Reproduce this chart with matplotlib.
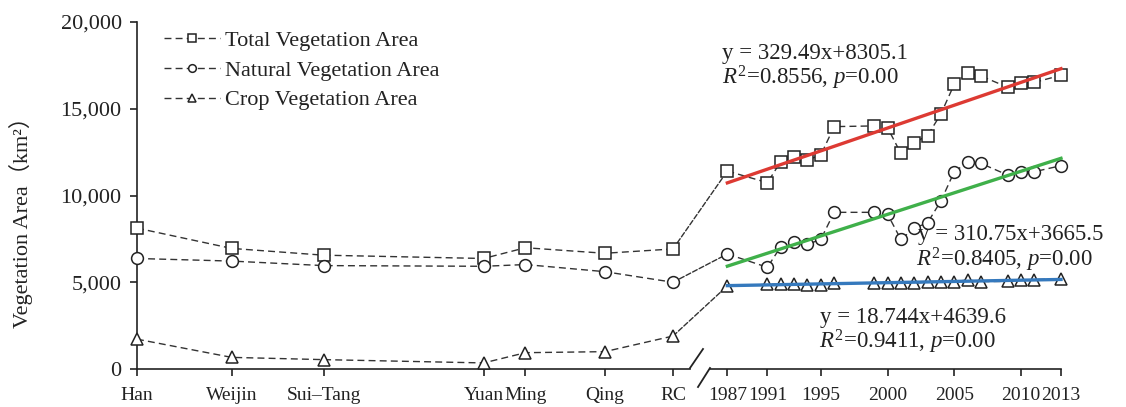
import numpy as np
import matplotlib
matplotlib.use('Agg')
import matplotlib.pyplot as plt
from matplotlib.patches import ConnectionPatch
from matplotlib.lines import Line2D
from matplotlib.ticker import FuncFormatter

plt.rcParams['font.family'] = ['Liberation Serif', 'Noto Sans CJK SC']
plt.rcParams['mathtext.fontset'] = 'custom'
plt.rcParams['mathtext.rm'] = 'Liberation Serif'
plt.rcParams['mathtext.it'] = 'Liberation Serif:italic'

# historical periods, x = rough representative year on a compressed time axis
periods = ['Han', 'Weijin', 'Sui\u2013Tang', 'Yuan', 'Ming', 'Qing', 'RC']
period_year = [0, 340, 670, 1245, 1395, 1680, 1925]
total_hist = [8120, 6950, 6560, 6370, 6990, 6670, 6920]
natural_hist = [6370, 6220, 5960, 5920, 6020, 5610, 5000]
crop_hist = [1720, 670, 540, 350, 940, 1000, 1900]

# recent years
years = [1987, 1991, 1992, 1993, 1994, 1995, 1996, 1999, 2000, 2001,
         2002, 2003, 2004, 2005, 2006, 2007, 2009, 2010, 2011, 2013]
total = [11410, 10740, 11950, 12240, 12050, 12330, 13970, 14010, 13910, 12430,
         13050, 13450, 14700, 16410, 17040, 16890, 16240, 16470, 16520, 16930]
natural = [6630, 5860, 7050, 7340, 7180, 7470, 9030, 9030, 8930, 7470,
           8110, 8430, 9680, 11370, 11910, 11850, 11180, 11330, 11370, 11720]
crop = [4790, 4880, 4900, 4900, 4870, 4860, 4940, 4980, 4980, 4960,
        4940, 5020, 5020, 5040, 5130, 5040, 5050, 5130, 5150, 5210]
year_ticks = [1987, 1991, 1995, 2000, 2005, 2010, 2013]

equations = [
    ('y = 329.49x+8305.1', r'$R^2$=0.8556, $p$=0.00'),
    ('y = 310.75x+3665.5', r'$R^2$=0.8405, $p$=0.00'),
    ('y = 18.744x+4639.6', r'$R^2$=0.9411, $p$=0.00'),
]
trend_colors = ['#dd3a33', '#3fb04a', '#3579bd']

labels = ['Total Vegetation Area', 'Natural Vegetation Area', 'Crop Vegetation Area']
markers = ['s', 'o', '^']


def yr_pos(y):
    # the 1987-1991 gap is drawn one year shorter
    return y + 1 if y < 1991 else y


W, H = 1126, 407


def px(x, y):
    return x / W, 1 - y / H


fig = plt.figure(figsize=(W / 100, H / 100), dpi=100)
ax1 = fig.add_axes([137 / W, 1 - 369 / H, (690 - 137) / W, 347 / H])
ax2 = fig.add_axes([710 / W, 1 - 369 / H, (1061 - 710) / W, 347 / H])
for ax in (ax1, ax2):
    ax.patch.set_visible(False)
    ax.set_ylim(0, 20000)
    for s in ('top', 'right'):
        ax.spines[s].set_visible(False)
    ax.spines['bottom'].set_linewidth(1.2)
    ax.spines['bottom'].set_color('#222222')
    ax.tick_params(axis='x', direction='out', length=5, width=1.2, pad=8,
                   labelsize=14, colors='#222222')

ax1.spines['left'].set_linewidth(1.2)
ax1.spines['left'].set_color('#222222')
ax1.tick_params(axis='y', direction='out', length=5, width=1.2, pad=6,
                labelsize=16, colors='#222222')
ax1.set_yticks([0, 5000, 10000, 15000, 20000])
ax1.yaxis.set_major_formatter(FuncFormatter(lambda v, p: '{:,.0f}'.format(v)))
ax1.set_xlim(0, 1986)
ax1.set_xticks(period_year)
ax1.set_xticklabels(periods)

ax2.spines['left'].set_visible(False)
ax2.tick_params(axis='y', left=False, labelleft=False)
ax2.set_xlim(1986.7, 2013)
ax2.set_xticks([yr_pos(y) for y in year_ticks])
ax2.set_xticklabels([str(y) for y in year_ticks])

xpos = np.array([yr_pos(y) for y in years], dtype=float)
dash = (0, (5, 3))
mk = dict(markersize=8.5, markerfacecolor='white', markeredgecolor='#222222',
          markeredgewidth=1.1, color='#333333', lw=1.0, ls=dash, clip_on=False)

handles = []
for old, new, m, lab in zip([total_hist, natural_hist, crop_hist],
                            [total, natural, crop], markers, labels):
    ax1.plot(period_year, old, marker=m, zorder=3, **mk)
    ax2.plot(xpos, new, marker=m, zorder=3, **mk)
    con = ConnectionPatch(xyA=(period_year[-1], old[-1]), coordsA=ax1.transData,
                          xyB=(xpos[0], new[0]), coordsB=ax2.transData,
                          color='#333333', lw=1.0, ls='--', zorder=-1)
    fig.add_artist(con)
    handles.append(Line2D([], [], marker=m, **{k: v for k, v in mk.items() if k != 'clip_on'}))

# linear trends of the recent series
for vals, c in zip([total, natural, crop], trend_colors):
    k, b = np.polyfit(xpos, vals, 1)
    ax2.plot([xpos[0], xpos[-1]], [k * xpos[0] + b, k * xpos[-1] + b],
             color=c, lw=2.4, zorder=4, clip_on=False)

# axis break marks
for (x0, y0, x1, y1) in [(690, 368, 703, 349), (698, 387, 710, 368)]:
    a, b = px(x0, y0)
    c, d = px(x1, y1)
    fig.add_artist(Line2D([a, c], [b, d], color='#222222', lw=1.3,
                          transform=fig.transFigure))

fig.legend(handles, labels, loc='upper left', bbox_to_anchor=px(153, 19),
           frameon=False, fontsize=16, handlelength=2.5, handletextpad=0.25,
           labelspacing=0.42, borderpad=0, markerscale=0.65,
           labelcolor='#222222')

eq_pos = [((722, 54), (722, 78)), ((918, 235), (916, 260)), ((820, 317), (819, 342))]
for (l1, l2), (p1, p2) in zip(equations, eq_pos):
    fig.text(*px(*p1), l1, fontsize=16.5, va='center', ha='left', color='#222222')
    fig.text(*px(*p2), l2, fontsize=16.5, va='center', ha='left', color='#222222')

fig.text(*px(21, 217), 'Vegetation Area\uff08km\u00b2\uff09', rotation=90,
         fontsize=16, va='center', ha='center', color='#222222')

fig.savefig('out.png', dpi=100)
